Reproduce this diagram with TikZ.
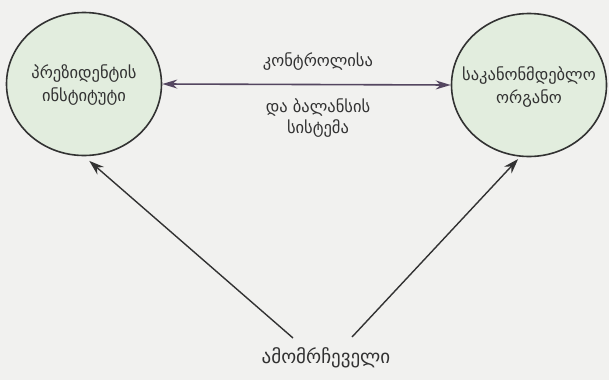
\documentclass[tikz,border=0pt]{standalone}
\usepackage{fontspec}
\setmainfont{DejaVu Sans}
\usetikzlibrary{shapes.geometric,arrows.meta}
\definecolor{bgc}{RGB}{241,241,239}
\definecolor{bubblefill}{RGB}{226,237,222}
\definecolor{inkc}{RGB}{50,50,50}
\definecolor{linkc}{RGB}{84,70,96}
\tikzset{
  bubble/.style={ellipse, draw=inkc, line width=1.6pt, fill=bubblefill, minimum width=155pt, minimum height=143pt, inner sep=0pt},
  lbl/.style={text=inkc, font=\fontsize{16.5}{23}\selectfont, align=center, inner sep=1pt},
  arr/.style={draw=inkc, line width=1.4pt, -{Stealth[length=15pt,width=10pt]}},
  harr/.style={draw=linkc, line width=1.6pt, {Stealth[length=15pt,width=9pt]}-{Stealth[length=15pt,width=9pt]}}
}
\begin{document}
\begin{tikzpicture}[x=1pt,y=-1pt]
\fill[bgc] (0,0) rectangle (609,380);
\useasboundingbox (0,0) rectangle (609,380);
\node[bubble] (pres) at (84,84) {};
\node[lbl] (prestext) at (84,85) {პრეზიდენტის\\ინსტიტუტი};
\node[bubble] (leg) at (529,85) {};
\node[lbl] (legtext) at (529,87) {საკანონმდებლო\\ორგანო};
\node[lbl] (ctop) at (318,62) {კონტროლისა};
\node[lbl, font=\fontsize{16.5}{21}\selectfont] (cbot) at (318,118) {და ბალანსის\\სისტემა};
\node[lbl, font=\fontsize{19}{23}\selectfont] (voter) at (326,358) {ამომრჩეველი};
\coordinate (vl) at (293,338);
\coordinate (vr) at (352,337);
\draw[harr] (pres.east) -- (leg.west);
\draw[arr, shorten >=7pt] (vl) -- (pres.south);
\draw[arr, shorten >=3pt] (vr) -- (leg.-97);
\end{tikzpicture}
\end{document}
